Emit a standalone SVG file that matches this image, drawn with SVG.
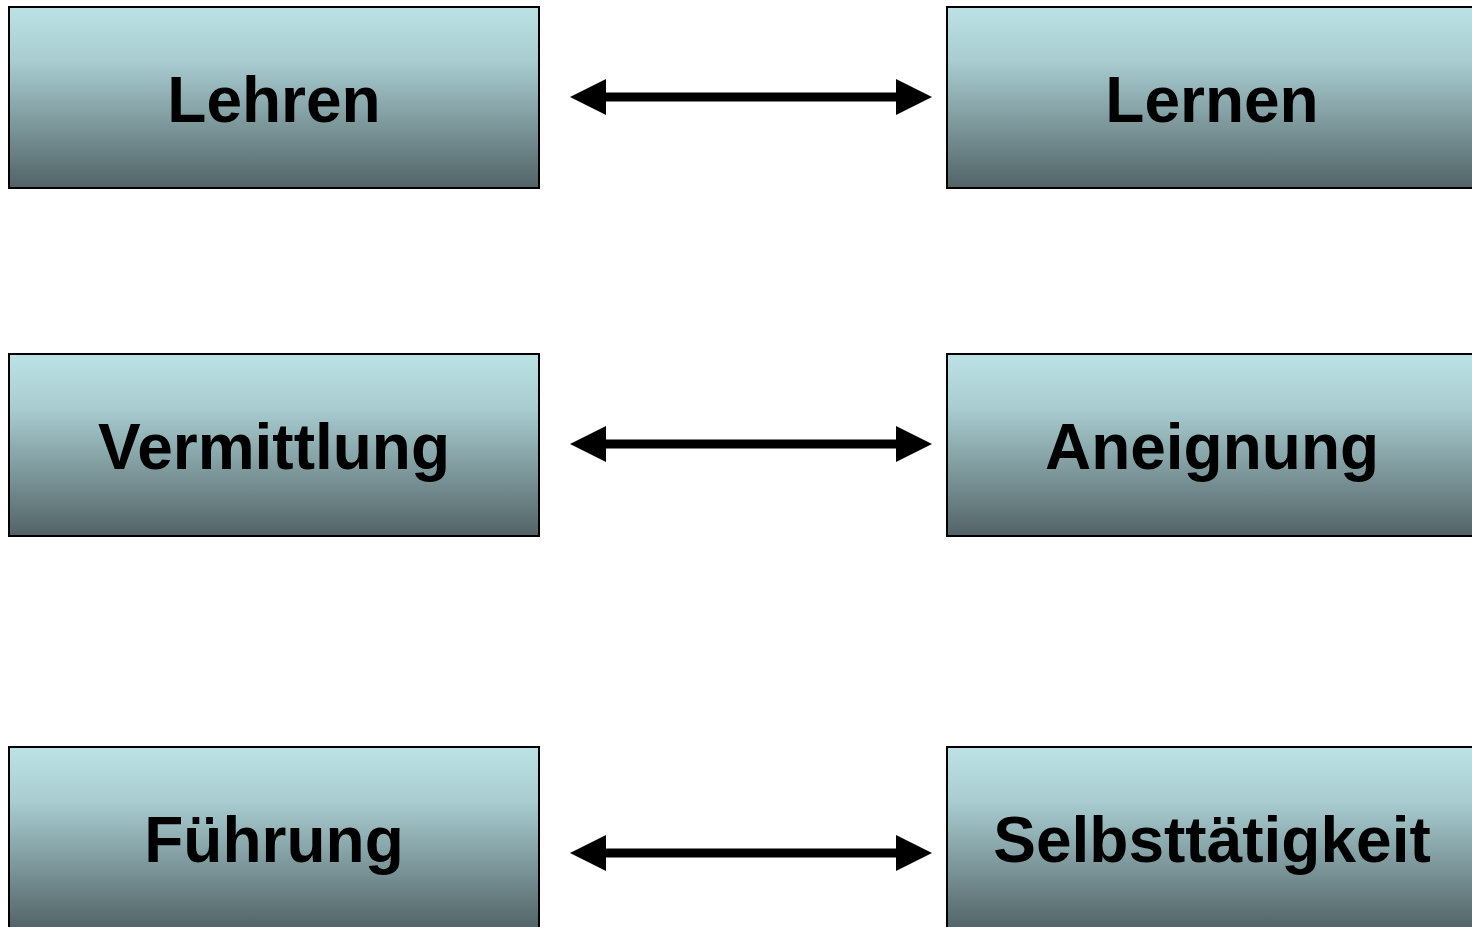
<svg xmlns="http://www.w3.org/2000/svg" width="1472" height="927" viewBox="0 0 1472 927">
<defs>
<linearGradient id="g" x1="0" y1="0" x2="0" y2="1">
<stop offset="0" stop-color="#bde2e5"/>
<stop offset="0.3" stop-color="#a8ccd0"/>
<stop offset="1" stop-color="#526366"/>
</linearGradient>
<marker id="ah" viewBox="0 0 36 36" refX="1" refY="18" markerWidth="36" markerHeight="36" markerUnits="userSpaceOnUse" orient="auto-start-reverse">
<path d="M0,0 L36,18 L0,36 Z" fill="#000"/>
</marker>
<style>
.box{fill:url(#g);stroke:#000;stroke-width:2}
.lbl{font-family:"Liberation Sans",Arial,sans-serif;font-weight:bold;font-size:64px;fill:#000;text-anchor:middle}
.conn{stroke:#000;stroke-width:9;fill:none}
</style>
</defs>
<rect width="1472" height="927" fill="#fff"/>
<g id="lehren"><rect class="box" x="9" y="7" width="530" height="181"/><text class="lbl" x="274" y="122">Lehren</text></g>
<g id="lernen"><rect class="box" x="947" y="7" width="530" height="181"/><text class="lbl" x="1212" y="122">Lernen</text></g>
<g id="vermittlung"><rect class="box" x="9" y="354" width="530" height="182"/><text class="lbl" x="274" y="469">Vermittlung</text></g>
<g id="aneignung"><rect class="box" x="947" y="354" width="530" height="182"/><text class="lbl" x="1212" y="469">Aneignung</text></g>
<g id="fuehrung"><rect class="box" x="9" y="747" width="530" height="182"/><text class="lbl" x="274" y="862">Führung</text></g>
<g id="selbsttaetigkeit"><rect class="box" x="947" y="747" width="530" height="182"/><text class="lbl" x="1212" y="862">Selbsttätigkeit</text></g>
<g id="connectors">
<line class="conn" x1="605" y1="97" x2="897" y2="97" marker-start="url(#ah)" marker-end="url(#ah)"/>
<line class="conn" x1="605" y1="444" x2="897" y2="444" marker-start="url(#ah)" marker-end="url(#ah)"/>
<line class="conn" x1="605" y1="853" x2="897" y2="853" marker-start="url(#ah)" marker-end="url(#ah)"/>
</g>
</svg>
